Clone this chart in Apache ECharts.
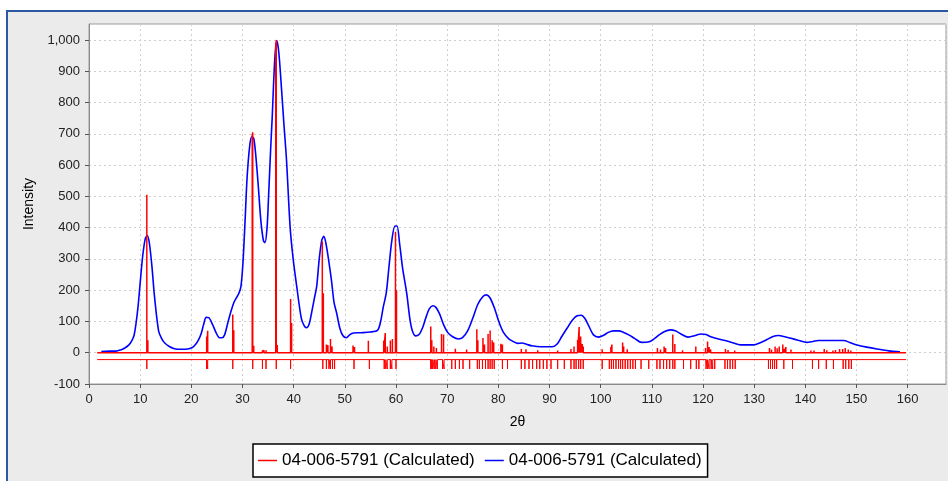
<!DOCTYPE html>
<html>
<head>
<meta charset="utf-8">
<script src="https://cdn.jsdelivr.net/npm/echarts@6/dist/echarts.min.js"></script>
<style>
html,body{margin:0;padding:0;background:#fff;}
#chart{width:948px;height:481px;}
</style>
</head>
<body>
<div id="chart"></div>
<script>
// ---- data ----
const legendLabel = "04-006-5791 (Calculated)";
const xAxisTitle = "2θ";
const yAxisTitle = "Intensity";

// pattern range (baseline and reference-line extent)
const patternStart = 1.6;
const patternEnd = 159.7;
const tickLineLevel = -22;
const tickBottom = -52;

// calculated profile (blue)
const profileX = [2.4,4,5.3,6.2,7,7.8,8.3,8.8,9.2,9.6,10,10.5,11,11.4,11.8,12.3,12.8,13.6,14.2,14.8,15.7,16.7,18,19.3,20.1,20.6,21.3,21.9,22.4,22.9,23.4,24.2,24.9,25.5,26,26.5,27.2,27.8,28.3,28.8,29.3,29.7,30.1,30.5,30.9,31.4,31.8,32.2,32.6,33.1,33.6,34.1,34.4,34.8,35.1,35.5,35.8,36.3,36.7,37.1,37.6,38.1,38.6,39.3,39.9,40.6,41.5,42.1,42.5,43,43.5,44,44.5,45,45.5,45.9,46.3,46.8,47.4,47.9,48.4,49,49.6,50.3,51,51.7,53,55,56.4,57,57.5,58.1,58.6,59.2,59.8,60.2,60.7,61.3,62.1,62.7,63.2,63.8,64.5,65.2,65.8,66.5,67.2,67.8,68.5,69.3,70.1,71,72.2,73,74,75,76,77,77.7,78.4,79.3,80.2,81,82,82.9,83.8,84.6,85.5,86.5,87.5,89,90.5,91.5,92.4,93.5,94.5,95.4,96.2,96.9,97.7,98.6,99.6,100.5,101.5,102.5,103.5,104.5,105.5,106.7,108,109.5,110.5,111.5,112.5,113.6,114.6,115.7,117.1,118.5,119.6,120.6,121.7,123,124.3,125.8,127.3,129.9,131.2,132.5,133.7,134.8,135.8,137,138.6,140.3,141.5,142.5,145,147.5,148.8,150.1,152,154,156.3,158.5];
const profileY = [4,5,5,9,15,25,36,55,95,150,223,310,365,375,350,276,180,70,45,31,20,13,11,12,16,22,38,60,90,113,112,88,62,48,48,57,100,135,160,175,190,212,290,420,560,660,690,685,630,530,420,358,352,400,500,650,750,936,998,960,850,730,617,404,300,212,110,85,80,90,127,170,212,300,360,372,350,300,230,160,127,80,55,48,58,63,64,66,72,100,145,191,270,360,405,405,350,270,190,110,70,54,58,80,110,140,150,145,125,90,65,52,44,48,70,110,155,180,185,175,140,95,65,45,36,30,31,27,22,20,19,19,28,52,80,105,118,120,110,85,57,50,55,65,70,70,65,57,45,33,35,45,58,68,73,70,60,50,55,60,58,50,44,39,32,25,25,32,42,52,55,52,47,40,33,36,39,39,39,32,25,18,12,6,3];

// stick pattern (red): peak positions and intensities
const stickX = [11.3,11.5,23.0,23.2,28.1,28.3,31.9,32.0,32.2,33.9,34.2,34.6,36.5,36.6,36.8,39.4,39.6,45.6,45.8,46.4,46.7,47.2,47.5,51.6,51.9,54.6,57.6,57.9,58.3,58.9,59.3,59.9,60.1,66.8,67.0,67.4,67.9,68.9,69.3,71.6,73.8,75.8,76.0,77.0,77.3,78.0,78.4,78.8,79.1,80.5,80.8,84.5,85.4,87.7,91.6,94.2,94.8,95.5,95.8,96.1,96.4,96.6,100.3,102.0,102.2,104.3,104.5,105.2,111.1,111.7,112.4,112.7,114.1,114.5,116.0,118.6,120.5,120.9,121.2,121.5,124.4,124.9,126.2,133.0,133.4,134.1,134.5,134.9,135.6,135.9,136.2,137.2,141.1,141.7,143.7,144.2,145.4,145.9,146.7,147.3,147.8,148.4,148.9];
const stickY = [505,40,52,70,122,72,700,705,22,8,8,8,990,1000,25,172,95,356,190,26,24,44,20,23,18,38,39,63,20,39,44,387,200,84,40,20,15,60,58,13,10,75,40,47,26,60,71,40,33,29,26,12,11,8,7,12,20,41,82,52,28,20,11,18,26,33,20,11,15,10,20,14,58,28,8,20,15,36,18,10,12,9,7,15,10,20,14,20,26,12,18,10,7,7,12,8,7,9,12,12,15,10,7];

// reflection marker positions (lower red ticks)
const markerX = [11.3,23.0,23.2,28.1,32.0,33.9,34.6,36.6,39.4,45.7,46.4,46.9,47.2,47.6,48.0,51.8,54.8,57.7,58.0,58.3,58.9,59.2,60.0,66.8,67.0,67.2,67.5,67.8,68.1,69.1,69.4,70.9,71.6,72.4,73.1,74.4,75.9,76.3,76.9,77.5,78.0,78.4,78.8,79.2,80.8,81.8,84.5,85.2,86.0,86.7,87.5,88.1,88.8,89.5,90.3,91.6,92.9,94.2,94.8,95.2,95.7,96.1,96.6,100.3,101.7,102.1,102.5,103.0,103.5,103.9,104.3,104.8,105.3,105.8,106.3,106.8,107.9,109.4,111.0,111.6,112.3,112.9,113.5,114.1,114.5,116.2,117.6,118.7,119.2,120.6,120.9,121.2,121.6,121.9,122.3,124.3,124.8,125.3,125.8,126.3,132.8,133.2,133.6,134.0,134.4,135.8,137.5,141.4,142.6,144.1,145.5,147.4,147.9,148.5,149.0];

// axis scale
const xMin = 0, xMax = 167.5, xStep = 10;
const yMin = -100, yMax = 1051, yStep = 100;

// ---- build series data ----
const blueData = profileX.map((x, i) => [x, profileY[i]]);

const redData = [[patternStart, 0]];
stickX.forEach((x, i) => { redData.push([x, 0], [x, stickY[i]], [x, 0]); });
redData.push([patternEnd, 0]);

const markerData = [[patternStart, tickLineLevel]];
markerX.forEach(x => { markerData.push([x, tickLineLevel], [x, tickBottom], [x, tickLineLevel]); });
markerData.push([patternEnd, tickLineLevel]);

const chart = echarts.init(document.getElementById('chart'), null, {renderer: 'canvas'});
const FONT = '"Liberation Sans", Arial, sans-serif';
const gridLine = {show: true, lineStyle: {color: '#cfcfcf', type: [2, 3], width: 1}};

chart.setOption({
  animation: false,
  backgroundColor: '#ffffff',
  graphic: [{
    type: 'rect', z: -10, silent: true,
    shape: {x: 7, y: 11, width: 1000, height: 1000},
    style: {fill: '#ebebeb', stroke: '#2b57a3', lineWidth: 2}
  }],
  grid: {
    left: 89, right: 2, top: 24, bottom: 97,
    show: true, backgroundColor: '#ffffff', borderColor: '#9a9a9a', borderWidth: 1
  },
  legend: {
    data: ['red', 'blue'],
    formatter: () => legendLabel,
    icon: 'rect',
    left: 253, top: 444,
    padding: [8, 6, 8, 5],
    itemGap: 10, itemWidth: 19, itemHeight: 1.5,
    backgroundColor: '#ffffff', borderColor: '#000000', borderWidth: 1.5,
    textStyle: {fontFamily: FONT, fontSize: 17, color: '#000'}
  },
  xAxis: {
    type: 'value', min: xMin, max: xMax, interval: xStep,
    name: xAxisTitle, nameLocation: 'middle', nameGap: 31,
    nameTextStyle: {fontFamily: FONT, fontSize: 14, color: '#000'},
    axisLine: {show: true, onZero: false, lineStyle: {color: '#8a8a8a'}},
    axisTick: {show: true, inside: false, length: 4, lineStyle: {color: '#555'}},
    axisLabel: {fontFamily: FONT, fontSize: 13, color: '#222', margin: 9, showMaxLabel: false},
    splitLine: gridLine
  },
  yAxis: {
    type: 'value', min: yMin, max: yMax, interval: yStep,
    name: yAxisTitle, nameLocation: 'middle', nameGap: 53,
    nameTextStyle: {fontFamily: FONT, fontSize: 14, color: '#000'},
    axisLine: {show: true, onZero: false, lineStyle: {color: '#8a8a8a'}},
    axisTick: {show: true, inside: false, length: 4, lineStyle: {color: '#555'}},
    axisLabel: {fontFamily: FONT, fontSize: 13, color: '#222', margin: 9, showMaxLabel: false,
      formatter: v => v.toLocaleString('en-US')},
    splitLine: gridLine
  },
  series: [
    {name: 'red', type: 'line', data: redData, symbol: 'none', color: '#ff0000',
     lineStyle: {color: '#ff0000', width: 1.5}, z: 3},
    {name: 'ticks', type: 'line', data: markerData, symbol: 'none', color: '#ff0000',
     lineStyle: {color: '#ff0000', width: 1}, z: 3},
    {name: 'blue', type: 'line', data: blueData, symbol: 'none', color: '#0000ff', smooth: 0.3,
     lineStyle: {color: '#0000ff', width: 1.6}, z: 2}
  ]
});
</script>
</body>
</html>
